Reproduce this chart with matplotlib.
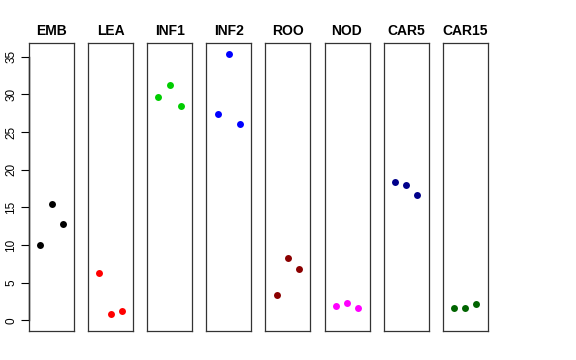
import numpy as np
import matplotlib
matplotlib.use("Agg")
import matplotlib.pyplot as plt

plt.rcParams['font.family'] = ['Liberation Sans', 'DejaVu Sans']

tissues = ["EMB", "LEA", "INF1", "INF2", "ROO", "NOD", "CAR5", "CAR15"]
colors = ["black", "#FF0000", "#00CD00", "#0000FF", "#8B0000", "#FF00FF", "#00008B", "#006400"]
reps = [1, 2, 3]
values = [
    [10.0, 15.5, 12.8],
    [6.3, 0.9, 1.3],
    [29.7, 31.3, 28.5],
    [27.4, 35.4, 26.1],
    [3.4, 8.3, 6.8],
    [1.9, 2.3, 1.7],
    [18.3, 18.0, 16.7],
    [1.6, 1.6, 2.2],
]
yticks = [0, 5, 10, 15, 20, 25, 30, 35]

W, H = 576, 360
fig = plt.figure(figsize=(W / 100, H / 100), dpi=100)

x0 = 29
pw = 45
step = 59.1
top, bot = 43, 331
ymax = max(max(v) for v in values)
pad = ymax * 0.04

for i, (name, col, vals) in enumerate(zip(tissues, colors, values)):
    left = x0 + i * step
    ax = fig.add_axes([left / W, (H - bot) / H, pw / W, (bot - top) / H])
    ax.plot(reps, vals, 'o', color=col, markersize=5, markeredgewidth=0)
    ax.set_xlim(0, 4)
    ax.set_ylim(-pad, ymax + pad)
    ax.set_xticks([])
    ax.set_title(name, fontsize=10, fontweight='bold', pad=6)
    for s in ax.spines.values():
        s.set_linewidth(0.9)
        s.set_color('#333333')
    if i == 0:
        ax.set_yticks(yticks)
        ax.set_yticklabels([str(t) for t in yticks], rotation=90, va='center', fontsize=8.5)
        ax.tick_params(axis='y', length=5.5, width=0.8, pad=3)
        # R style axis line from first to last tick
        ax.plot([0, 0], [yticks[0], yticks[-1]], color='black', lw=1.0, clip_on=False)
    else:
        ax.set_yticks([])

fig.savefig("out.png", dpi=100)
